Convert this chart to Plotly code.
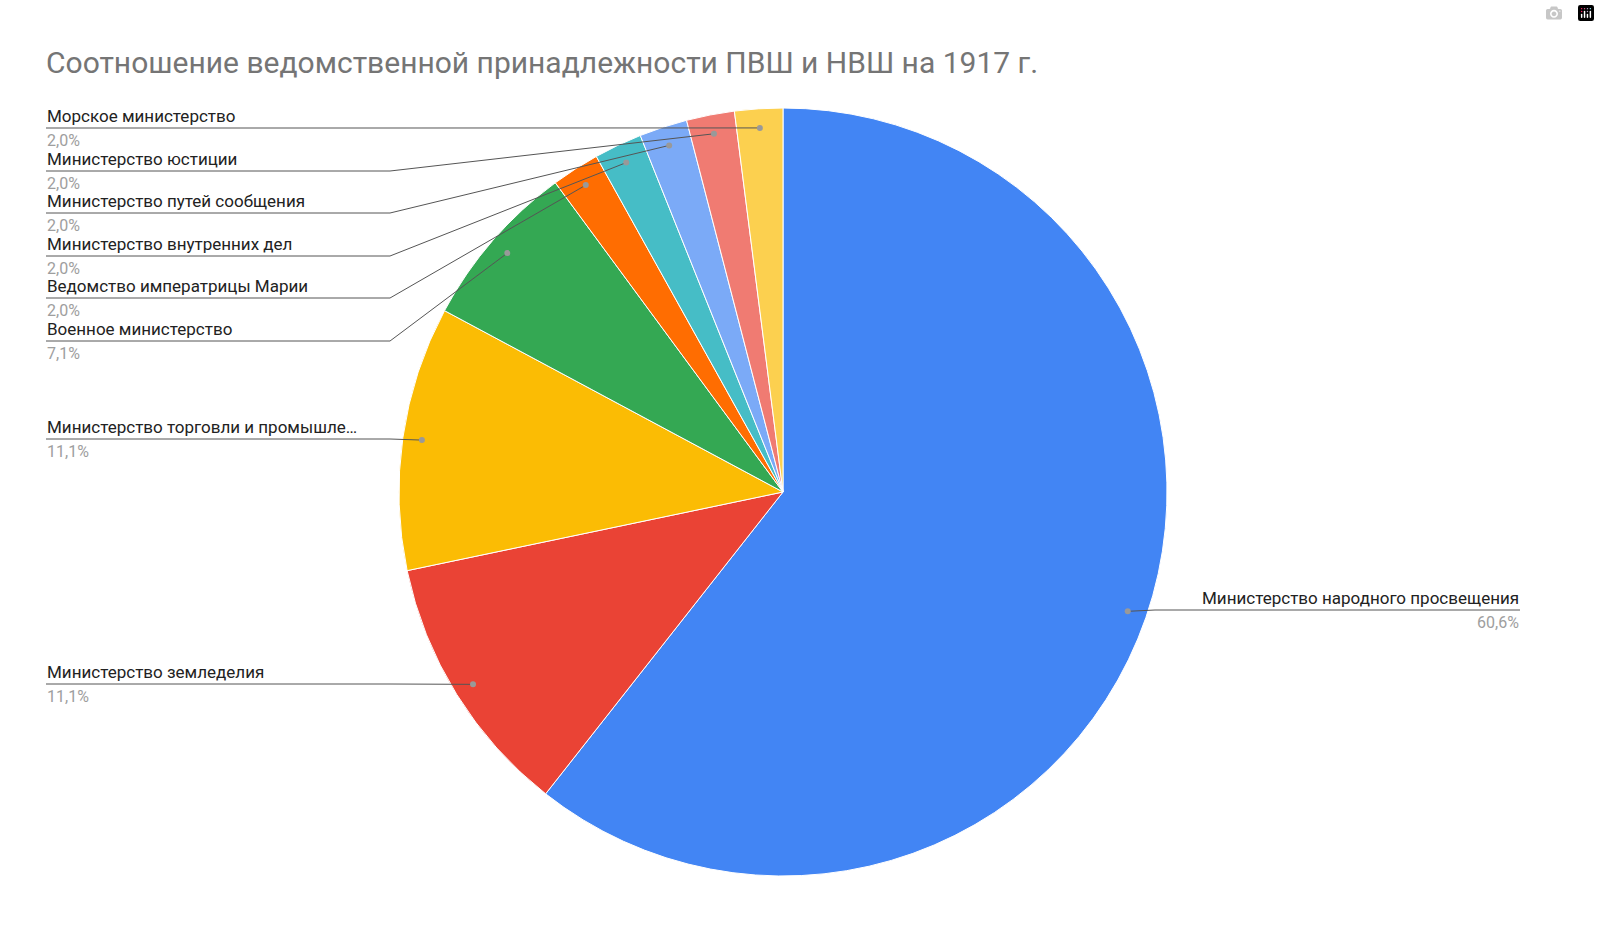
import math
import plotly.graph_objects as go

labels = ["Министерство народного просвещения", "Министерство земледелия",
          "Министерство торговли и промышленности", "Военное министерство",
          "Ведомство императрицы Марии", "Министерство внутренних дел",
          "Министерство путей сообщения", "Министерство юстиции", "Морское министерство"]
short_labels = ["Министерство народного просвещения", "Министерство земледелия",
                "Министерство торговли и промышле…", "Военное министерство",
                "Ведомство императрицы Марии", "Министерство внутренних дел",
                "Министерство путей сообщения", "Министерство юстиции", "Морское министерство"]
values = [60, 11, 11, 7, 2, 2, 2, 2, 2]
colors = ["#4285F4", "#EA4335", "#FBBC04", "#34A853", "#FF6D01", "#46BDC6",
          "#7BAAF7", "#F07B72", "#FCD04F"]

W, H = 1600, 941
cx, cy, R = 783, 492, 384
label_line_y = [610, 684, 439, 341, 298, 256, 213, 171, 128]
label_side = ["R", "L", "L", "L", "L", "L", "L", "L", "L"]

def px(x): return x / W
def py(y): return 1 - y / H

fig = go.Figure(go.Pie(
    labels=labels, values=values, sort=False, direction="clockwise", rotation=0,
    marker=dict(colors=colors, line=dict(color="white", width=1)),
    textinfo="none", hoverinfo="label+percent", showlegend=False,
    domain=dict(x=[px(cx - R), px(cx + R)], y=[py(cy + R), py(cy - R)])))

total = sum(values)
cum = 0
shapes, annots = [], []
for i, v in enumerate(values):
    mid = (cum + v / 2) / total * 2 * math.pi
    cum += v
    dx = cx + math.sin(mid) * R * 0.95
    dy = cy - math.cos(mid) * R * 0.95
    ly = label_line_y[i]
    pct = f"{v / total * 100:.1f}%".replace(".", ",")
    if label_side[i] == "L":
        x0, x1, tx, anchor = 46, 390, 46, "left"
    else:
        x0, x1, tx, anchor = 1520, 1155, 1520, "right"
    shapes.append(dict(type="line", xref="paper", yref="paper", x0=px(x0), y0=py(ly),
                       x1=px(x1), y1=py(ly), line=dict(color="#555555", width=1)))
    shapes.append(dict(type="line", xref="paper", yref="paper", x0=px(x1), y0=py(ly),
                       x1=px(dx), y1=py(dy), line=dict(color="#555555", width=1)))
    shapes.append(dict(type="circle", xref="paper", yref="paper", x0=px(dx - 3), y0=py(dy + 3),
                       x1=px(dx + 3), y1=py(dy - 3), fillcolor="#999999", line=dict(width=0)))
    annots.append(dict(x=px(tx), y=py(ly - 1), xref="paper", yref="paper", text=short_labels[i],
                       showarrow=False, xanchor=anchor, yanchor="bottom", borderpad=0,
                       font=dict(size=17, color="#222222", family="Roboto")))
    annots.append(dict(x=px(tx), y=py(ly + 2), xref="paper", yref="paper", text=pct,
                       showarrow=False, xanchor=anchor, yanchor="top", borderpad=0,
                       font=dict(size=16, color="#9E9E9E", family="Roboto")))

fig.update_layout(
    autosize=True, margin=dict(l=0, r=0, t=0, b=0),
    paper_bgcolor="white", plot_bgcolor="white",
    title=dict(text="Соотношение ведомственной принадлежности ПВШ и НВШ на 1917 г.",
               x=px(46), xanchor="left", y=py(62), yanchor="middle",
               font=dict(size=30, color="#757575", family="Roboto")),
    shapes=shapes, annotations=annots)
fig.write_html("out.html", default_width="100vw", default_height="100vh",
               include_plotlyjs=True, full_html=True,
               post_script="document.body.style.margin='0';document.body.style.overflow='hidden';window.dispatchEvent(new Event('resize'));")
